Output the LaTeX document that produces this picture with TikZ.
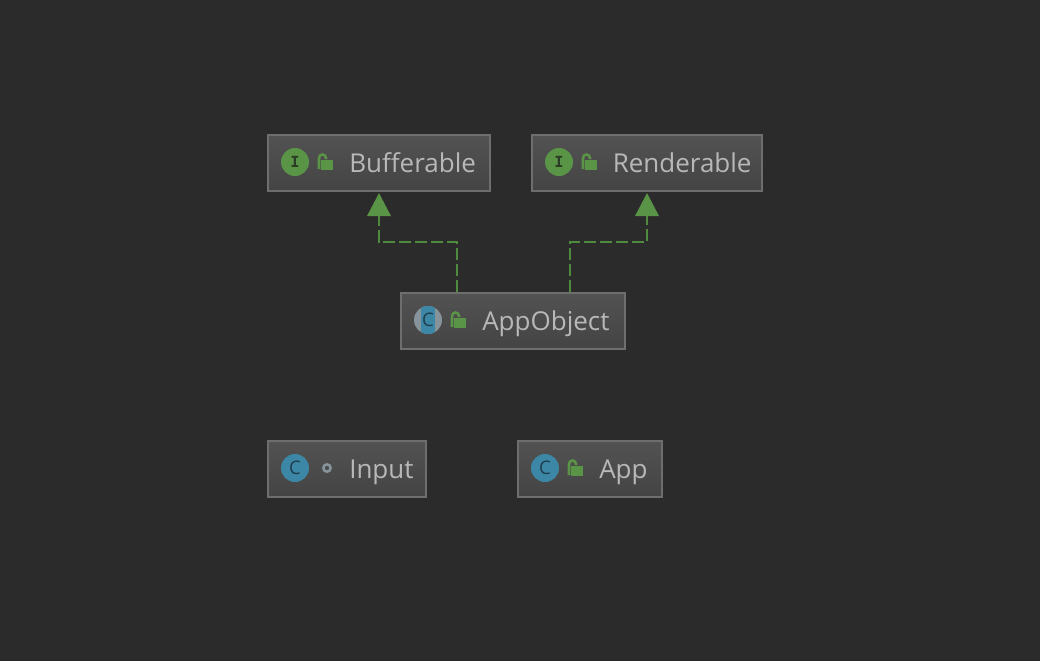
\documentclass[tikz,border=0pt]{standalone}
\usepackage{fontspec}
\setmainfont{Open Sans}
\newfontfamily\iconmono{DejaVu Sans Mono}
\usetikzlibrary{arrows.meta}
\definecolor{bgdark}{HTML}{2B2B2B}
\definecolor{boxedge}{HTML}{6E6E6E}
\definecolor{boxtop}{HTML}{525252}
\definecolor{boxbottom}{HTML}{444444}
\definecolor{labelgrey}{HTML}{B8B8B8}
\definecolor{leafgreen}{HTML}{5A9446}
\definecolor{darkgreen}{HTML}{4F8A3F}
\definecolor{classblue}{HTML}{3D87A6}
\definecolor{classink}{HTML}{1F3E4E}
\definecolor{ifaceink}{HTML}{2B3B25}
\definecolor{abstractgrey}{HTML}{87939A}
\tikzset{
    umlbox/.style = {rectangle, draw = boxedge, line width = 1.6pt, top color = boxtop,
        bottom color = boxbottom, minimum height = 41.5pt, inner sep = 0pt, outer sep = .8pt},
    boxtext/.style = {anchor = base west, inner sep = 0pt, text = labelgrey,
        font = \fontsize{19.5}{20}\selectfont},
    roundicon/.style = {circle, minimum size = 21pt, inner sep = 0pt},
    ifaceicon/.style = {roundicon, fill = leafgreen, text = ifaceink, font = \iconmono\bfseries\fontsize{11.5}{12}\selectfont},
    classicon/.style = {roundicon, fill = classblue, text = classink, font = \fontsize{14}{12}\selectfont},
    abstracticon/.style = {classicon, fill = abstractgrey,
        path picture = {\fill[classblue] ([xshift = -5.6pt]path picture bounding box.south)
            rectangle ([xshift = 5.6pt]path picture bounding box.north);}},
    privateicon/.style = {circle, draw = abstractgrey, line width = 1.9pt, minimum size = 5.5pt, inner sep = 0pt},
    realizes/.style = {draw = darkgreen, line width = 1.8pt, dash pattern = on 9pt off 3pt, shorten > = 1pt,
        -{Triangle[length = 17.25pt, width = 18pt, color = leafgreen, line width = 0pt]}},
    lockicon/.pic = {
        \fill[leafgreen] (4,-2) rectangle (16,8);
        \draw[leafgreen, line width = 1.9pt] (2,7) -- (2,-4) arc[start angle = 180, end angle = 0, x radius = 3.5, y radius = -3.5] -- (9,-3);
    }
}
\begin{document}
\begin{tikzpicture}[x = .75pt, y = -.75pt]
    \useasboundingbox[fill = bgdark] (0,0) rectangle (1040,661);

    \node[umlbox, minimum width = 166pt] (bufferable) at (379,163) {};
    \node[umlbox, minimum width = 172pt] (renderable) at (647,163) {};
    \node[umlbox, minimum width = 167.5pt] (appobject) at (513,321) {};
    \node[umlbox, minimum width = 118pt] (input) at (347,469) {};
    \node[umlbox, minimum width = 107.5pt] (app) at (590,469) {};

    \node[ifaceicon] (bufferableicon) at (295,162) {I};
    \node[ifaceicon] (renderableicon) at (559,162) {I};
    \node[abstracticon] (appobjecticon) at (428,320) {C};
    \node[classicon] (inputicon) at (295,468) {C};
    \node[classicon] (appicon) at (545,468) {C};

    \pic at (317,162) {lockicon};
    \pic at (581,162) {lockicon};
    \pic at (450,320) {lockicon};
    \pic at (567,468) {lockicon};
    \node[privateicon] (inputdot) at (327,468) {};

    \node[boxtext] (bufferablename) at (349,172) {Bufferable};
    \node[boxtext] (renderablename) at (612.5,172) {Renderable};
    \node[boxtext] (appobjectname) at (482,330) {AppObject};
    \node[boxtext] (inputname) at (349,478) {Input};
    \node[boxtext] (appname) at (599,478) {App};

    \draw[realizes] ([xshift = -41.9pt]appobject.north) -- ++(0,-50) -| (bufferable.south);
    \draw[realizes] ([xshift = 42.8pt]appobject.north) -- ++(0,-50) -| (renderable.south);
\end{tikzpicture}
\end{document}
